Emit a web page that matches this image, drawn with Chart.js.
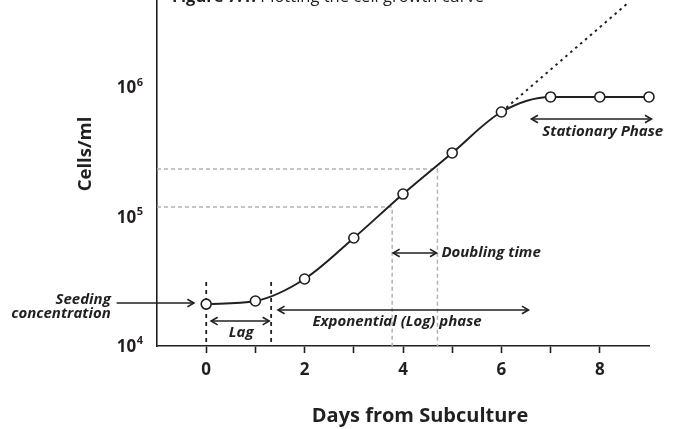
<!DOCTYPE html>
<html>
<head>
<meta charset="utf-8">
<script src="https://cdn.jsdelivr.net/npm/chart.js@4"></script>
<style>
  html, body { margin: 0; padding: 0; background: #ffffff; }
  #wrap { width: 675px; height: 429px; }
</style>
</head>
<body>
<div id="wrap"><canvas id="c" width="675" height="429"></canvas></div>
<script>
// ---------- data ----------
const days = [0, 1, 2, 3, 4, 5, 6, 7, 8, 9];
const cellsPerMl = [2.11e4, 2.23e4, 3.30e4, 6.85e4, 1.50e5, 3.12e5, 6.47e5, 8.46e5, 8.46e5, 8.46e5];
const extrapolationDays = [6, 8.55];
const extrapolationCells = [6.47e5, 4.44e6];
const xTickValues = [0, 1, 2, 3, 4, 5, 6, 7, 8];
const xLabeledTicks = [0, 2, 4, 6, 8];
const yTickValues = [1e4, 1e5, 1e6];
const doublingLevels = [1.19e5, 2.34e5];      // cells/ml
const doublingDays = [3.78, 4.70];            // where the guides meet the curve
const lagBoundaryDays = [0, 1.32];
const lagBoundaryTop = 3.13e4;
const titleBold = "Figure 7.1:";
const titleRest = " Plotting the cell growth curve";
const xTitle = "Days from Subculture";
const yTitle = "Cells/ml";

// annotation arrows (data coordinates) and labels
const arrowStartX = [-1.82, 0.10, 1.46, 3.80, 6.61];
const arrowEndX   = [-0.25, 1.28, 6.55, 4.68, 9.05];
const arrowY      = [2.15e4, 1.56e4, 1.90e4, 5.25e4, 5.71e5];
const arrowDouble = [false, true, true, true, true];
const labelText  = ["Seeding", "concentration", "Lag", "Exponential (Log) phase", "Doubling time", "Stationary Phase"];
const labelX     = [-1.94, -1.94, 0.71, 3.88, 4.78, 8.06];
const labelY     = [2.27e4, 1.77e4, 1.26e4, 1.53e4, 5.25e4, 4.53e5];
const labelAlign = ["right", "right", "center", "center", "left", "center"];

// ---------- chart ----------
const FONT = '"Open Sans", "Noto Sans", sans-serif';
const INK = '#231f20';

const pts = (xs, ys) => xs.map((v, i) => ({ x: v, y: ys[i] }));

const datasets = [
  {
    label: 'Cell growth', data: pts(days, cellsPerMl), clip: false,
    borderColor: INK, borderWidth: 2, cubicInterpolationMode: 'monotone',
    pointRadius: 5, pointBorderWidth: 1.6, pointBackgroundColor: '#ffffff', pointBorderColor: INK
  },
  {
    label: 'Extrapolation', data: pts(extrapolationDays, extrapolationCells),
    borderColor: INK, borderWidth: 2, borderDash: [2.5, 4], pointRadius: 0, tension: 0
  }
];
doublingLevels.forEach((lvl, i) => {
  datasets.push({
    label: 'Doubling guide ' + (i + 1),
    data: [{ x: -1, y: lvl }, { x: doublingDays[i], y: lvl }, { x: doublingDays[i], y: yTickValues[0] }],
    borderColor: '#b3b3b3', borderWidth: 1.5, borderDash: [4, 3], pointRadius: 0, tension: 0
  });
});
lagBoundaryDays.forEach((d, i) => {
  datasets.push({
    label: 'Lag boundary ' + (i + 1),
    data: [{ x: d, y: lagBoundaryTop }, { x: d, y: yTickValues[0] }],
    borderColor: INK, borderWidth: 1.8, borderDash: [4, 4], pointRadius: 0, tension: 0
  });
});

function drawArrowHead(ctx, tx, ty, dx, dy) {
  const len = Math.hypot(dx, dy) || 1;
  const ux = dx / len, uy = dy / len;
  const L = 6.5, W = 3.8;
  ctx.beginPath();
  ctx.moveTo(tx - ux * L - uy * W, ty - uy * L + ux * W);
  ctx.lineTo(tx, ty);
  ctx.lineTo(tx - ux * L + uy * W, ty - uy * L - ux * W);
  ctx.stroke();
}

const annotations = {
  id: 'annotations',
  afterDraw(chart) {
    const { ctx, scales: { x, y } } = chart;
    const X = v => x.getPixelForValue(v);
    const Y = v => y.getPixelForValue(v);
    ctx.save();
    ctx.fillStyle = INK;
    ctx.strokeStyle = INK;

    // y tick labels: 10 with superscript exponent
    yTickValues.forEach(v => {
      const exp = String(Math.round(Math.log10(v)));
      const py = Y(v);
      const right = x.left - 14;
      ctx.font = 'bold 11px ' + FONT;
      const sw = ctx.measureText(exp).width;
      ctx.textAlign = 'right';
      ctx.textBaseline = 'middle';
      ctx.fillText(exp, right, py - 5);
      ctx.font = 'bold 17px ' + FONT;
      ctx.fillText('10', right - sw - 0.5, py + 1);
    });

    // arrows
    ctx.lineWidth = 1.6;
    ctx.lineCap = 'butt';
    arrowStartX.forEach((sx, i) => {
      const x1 = X(sx), x2 = X(arrowEndX[i]), py = Y(arrowY[i]);
      ctx.beginPath();
      ctx.moveTo(x1, py);
      ctx.lineTo(x2, py);
      ctx.stroke();
      drawArrowHead(ctx, x2, py, 1, 0);
      if (arrowDouble[i]) drawArrowHead(ctx, x1, py, -1, 0);
    });

    // labels
    ctx.font = 'italic bold 15px ' + FONT;
    ctx.textBaseline = 'middle';
    labelText.forEach((t, i) => {
      ctx.textAlign = labelAlign[i];
      ctx.fillText(t, X(labelX[i]), Y(labelY[i]));
    });

    // axis titles
    ctx.font = 'bold 20px ' + FONT;
    ctx.textAlign = 'center';
    ctx.textBaseline = 'middle';
    ctx.fillText(xTitle, 420, 416);
    ctx.save();
    ctx.font = 'bold 18.5px ' + FONT;
    ctx.translate(86, 154);
    ctx.rotate(-Math.PI / 2);
    ctx.fillText(yTitle, 0, 0);
    ctx.restore();

    // figure title (cut off by the top edge)
    ctx.textAlign = 'left';
    ctx.textBaseline = 'alphabetic';
    ctx.font = 'bold 16.5px ' + FONT;
    ctx.fillText(titleBold, 172, 2);
    const bw = ctx.measureText(titleBold).width;
    ctx.font = '16.5px ' + FONT;
    ctx.fillText(titleRest, 172 + bw, 2);
    ctx.restore();
  }
};

new Chart(document.getElementById('c'), {
  type: 'line',
  data: { datasets },
  options: {
    responsive: false,
    animation: false,
    devicePixelRatio: 1,
    layout: { autoPadding: false, padding: { left: 0, right: 26, top: 0, bottom: 0 } },
    plugins: { legend: { display: false }, tooltip: { enabled: false }, title: { display: false } },
    scales: {
      x: {
        type: 'linear', min: -1, max: 9,
        afterBuildTicks: s => { s.ticks = xTickValues.map(v => ({ value: v })); },
        afterFit: s => { s.height = 83; },
        grid: { display: true, drawOnChartArea: false, drawTicks: true, tickLength: 7, tickColor: INK, tickWidth: 1.6 },
        border: { display: true, color: INK, width: 1.6 },
        ticks: {
          color: INK, padding: 7, maxRotation: 0, autoSkip: false,
          font: { family: FONT, size: 17, weight: 'bold' },
          callback: v => (xLabeledTicks.includes(v) ? String(v) : '')
        }
      },
      y: {
        type: 'logarithmic', min: 1e4, max: 4.76e6,
        afterBuildTicks: s => { s.ticks = yTickValues.map(v => ({ value: v })); },
        afterFit: s => { s.width = 157; },
        grid: { display: false },
        border: { display: true, color: INK, width: 1.6 },
        ticks: { display: false }
      }
    }
  },
  plugins: [annotations]
});
</script>
</body>
</html>
